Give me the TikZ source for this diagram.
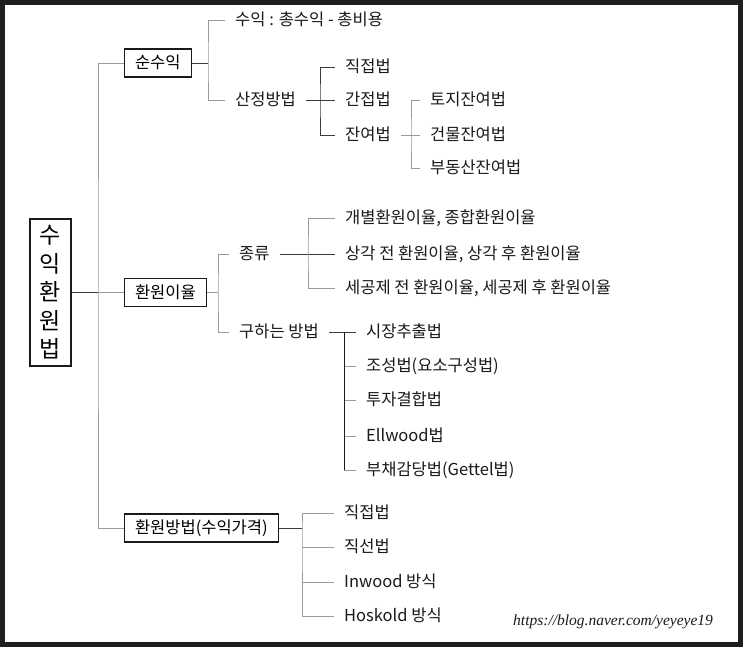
\documentclass[tikz,border=0pt]{standalone}
\usepackage{fontspec}
\setmainfont{Noto Sans CJK KR}
\newfontfamily\handfont{Liberation Serif}
\usepackage{tikz}
\usetikzlibrary{calc}
\definecolor{Frame}{HTML}{1E1E1E}
\definecolor{Ink}{HTML}{1A1A1A}
\definecolor{Line}{HTML}{9A9A9A}
\definecolor{LineDark}{HTML}{3C3C3C}
\tikzset{box/.style={draw=Ink,fill=white,line width=1.1pt,anchor=west,minimum height=28pt,inner xsep=10.5pt,inner ysep=0pt,text height=14pt,text depth=2.6pt,font=\fontsize{16.5}{18}\selectfont},item/.style={anchor=west,inner xsep=10pt,inner ysep=1pt,text height=14pt,text depth=2.6pt,text=Ink,font=\fontsize{16.5}{18}\selectfont},link/.style={draw=Line,line width=.9pt},darklink/.style={draw=LineDark,line width=.9pt}}

\begin{document}
\begin{tikzpicture}[x=1pt,y=-1pt]
        \useasboundingbox (0,0) rectangle (743,647);
        \fill[Frame] (0,0) rectangle (743,647);
        \fill[white] (5,5) rectangle (738,642);
        % root and first level
        \node[draw=Ink,fill=white,line width=1.1pt,minimum width=41pt,minimum height=147pt,inner sep=0pt,align=center,font=\fontsize{23}{28.5}\selectfont] (root) at (50.5,292.5){수\\익\\환\\원\\법};
        \node[box] (netinc) at (124,63){순수익};
        \node[box] (rate) at (124,292.5){환원이율};
        \node[box] (method) at (124,528){환원방법(수익가격)};
        \coordinate (trunk) at (98,292.5);
        \draw[darklink] (root)--(trunk);
        \draw[link] (trunk)--(rate);
        \draw[link] (netinc.west)-|(trunk)|-(method.west);
        % net income
        \node[item] (suik) at (225,20){수익 : 총수익 - 총비용};
        \node[item] (sanjeong) at (225,100){산정방법};
        \coordinate (j1) at (208,63);
        \draw[darklink] (netinc)--(j1);
        \draw[link] (suik.west)-|(j1)|-(sanjeong.west);
        \node[item] (jikjeop) at (335,67){직접법};
        \node[item] (ganjeop) at (335,100){간접법};
        \node[item] (janyeo) at (335,135){잔여법};
        \coordinate (j2) at (320,100);
        \draw[darklink] (sanjeong)--(ganjeop);
        \draw[darklink] (jikjeop.west)-|(j2)|-(janyeo.west);
        \node[item] (toji) at (420,100){토지잔여법};
        \node[item] (geonmul) at (420,135){건물잔여법};
        \node[item] (budong) at (420,168){부동산잔여법};
        \coordinate (j3) at (411,135);
        \draw[link] (janyeo)--(geonmul);
        \draw[link] (toji.west)-|(j3)|-(budong.west);
        % capitalization rate
        \node[item] (jongryu) at (229,254){종류};
        \node[item] (guha) at (229,332){구하는 방법};
        \coordinate (j4) at (218,292.5);
        \draw[link] (rate)--(j4);
        \draw[link] (jongryu.west)-|(j4)|-(guha.west);
        \node[item] (gaebyeol) at (335,218){개별환원이율, 종합환원이율};
        \node[item] (sanggak) at (335,254){상각 전 환원이율, 상각 후 환원이율};
        \node[item] (segongje) at (335,288){세공제 전 환원이율, 세공제 후 환원이율};
        \coordinate (j5) at (308,254);
        \draw[darklink] (jongryu)--(sanggak);
        \draw[link] (gaebyeol.west)-|(j5)|-(segongje.west);
        \node[item] (sijang) at (356,332){시장추출법};
        \node[item] (joseong) at (356,366){조성법(요소구성법)};
        \node[item] (tuja) at (356,400){투자결합법};
        \node[item] (ellwood) at (356,436){Ellwood법};
        \node[item] (buchae) at (356,470){부채감당법(Gettel법)};
        \coordinate (j6) at (344,332);
        \draw[darklink] (guha)--(sijang);
        \foreach \n in {joseong,tuja,ellwood,buchae}
          \draw[link] (\n.west-|j6)--(\n.west);
        \draw[draw=Ink,line width=.9pt] (j6)--(buchae.west-|j6);
        % capitalization method
        \node[item] (jjeop) at (334,513){직접법};
        \node[item] (jseon) at (334,547){직선법};
        \node[item] (inwood) at (334,582){Inwood 방식};
        \node[item] (hoskold) at (334,616){Hoskold 방식};
        \coordinate (j7) at (302,528);
        \draw[darklink] (method)--(j7);
        \draw[link] (jjeop.west)-|(j7)|-(hoskold.west);
        \foreach \n in {jseon,inwood}
          \draw[link] (\n.west-|j7)--(\n.west);
        \node[anchor=west,inner sep=0pt,text=Ink,font=\handfont\itshape\fontsize{15.5}{18}\selectfont] (url) at (513,622){https://blog.naver.com/yeyeye19};
\end{tikzpicture}
\end{document}
